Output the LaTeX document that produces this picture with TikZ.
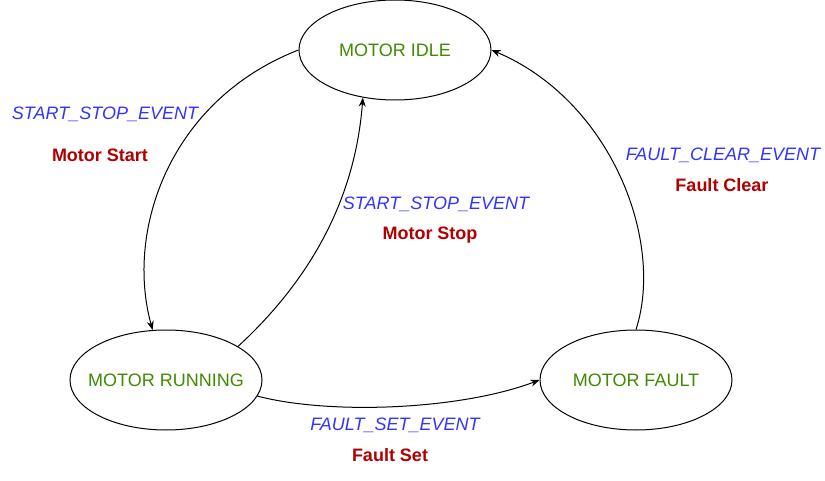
\documentclass[tikz,border=0pt]{standalone}
\usepackage{fontspec}
\setmainfont{Liberation Sans}
\usetikzlibrary{shapes.geometric,arrows.meta}
\definecolor{stategreen}{HTML}{408A00}
\definecolor{evblue}{HTML}{3333FF}
\definecolor{actred}{HTML}{B20000}
\tikzset{
  state/.style={ellipse,draw=black,line width=1pt,minimum width=192pt,minimum height=100pt,inner xsep=-30pt,inner ysep=0pt,
    text=stategreen,font=\fontsize{18}{22}\selectfont},
  evlabel/.style={text=evblue,font=\fontsize{18}{22}\selectfont\itshape,inner sep=0pt},
  actlabel/.style={text=actred,font=\fontsize{18}{22}\selectfont\bfseries,inner sep=0pt},
  trans/.style={draw=black,line width=1pt,-{Stealth[length=9pt,width=7pt]}}
}
\begin{document}
\begin{tikzpicture}[x=1pt,y=-1pt]
\useasboundingbox (0,0) rectangle (825,481);
\node[state] (idle) at (395,50) {MOTOR IDLE};
\node[state] (running) at (166,380) {MOTOR RUNNING};
\node[state] (fault) at (636,380) {MOTOR FAULT};

\node[evlabel] (l1a) at (105,114) {START\_STOP\_EVENT};
\node[actlabel] (l1b) at (100,155) {Motor Start};
\node[evlabel] (l2a) at (436,204) {START\_STOP\_EVENT};
\node[actlabel] (l2b) at (430,235) {Motor Stop};
\node[evlabel] (l3a) at (723,155) {FAULT\_CLEAR\_EVENT};
\node[actlabel] (l3b) at (722,185) {Fault Clear};
\node[evlabel] (l4a) at (395,425) {FAULT\_SET\_EVENT};
\node[actlabel] (l4b) at (390,455) {Fault Set};

\draw[trans] (idle.west) .. controls (170,100) and (125,230) .. (running.105);
\draw[trans] (running.25) .. controls (310,280) and (355,200) .. (idle.236);
\draw[trans] (running.350) .. controls (330,415) and (460,410) .. (fault.west);
\draw[trans] (fault.north) .. controls (665,240) and (610,100) .. (idle.east);
\end{tikzpicture}
\end{document}
